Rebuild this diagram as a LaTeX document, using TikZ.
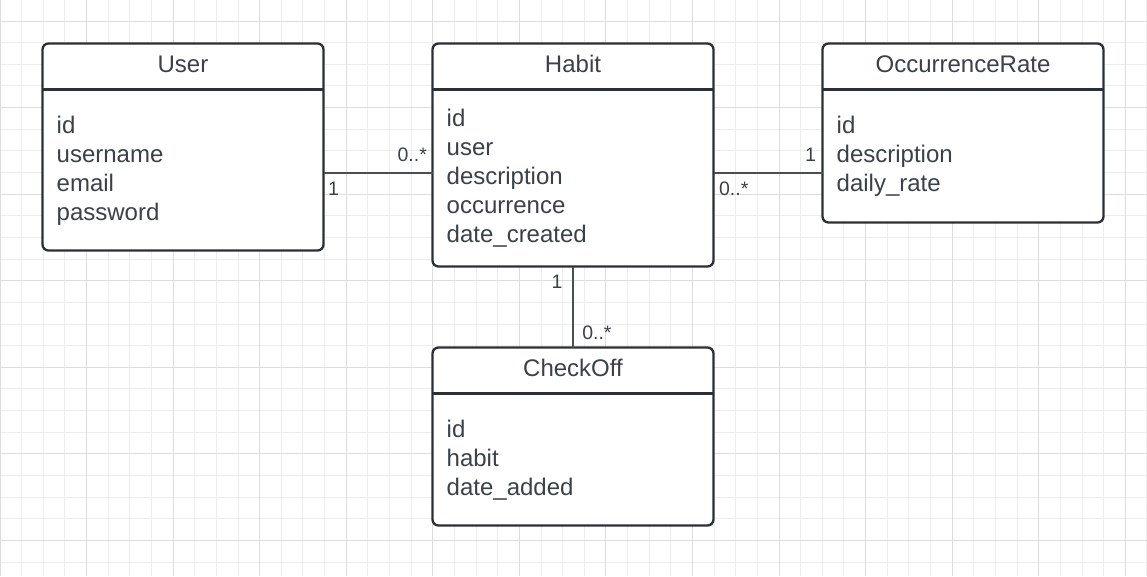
\documentclass[tikz,border=0pt]{standalone}
\usepackage{fontspec}
\setmainfont{Liberation Sans}
\usepackage{tikz}
\usetikzlibrary{positioning}

\definecolor{inkgray}{HTML}{3A414A}
\definecolor{boxline}{HTML}{2B2F36}
\definecolor{gridminor}{HTML}{EDEDED}
\definecolor{gridmajor}{HTML}{DDDDDD}
\definecolor{linkgray}{HTML}{4A4F56}

\tikzset{
  classbox/.style={draw=boxline, line width=2.3pt, fill=white, rounded corners=6pt,
    minimum width=281pt, inner sep=0pt, outer sep=0pt},
  classtitle/.style={text=inkgray, font=\fontsize{24}{29}\selectfont, anchor=base, inner sep=0pt},
  fields/.style={text=inkgray, font=\fontsize{24}{29}\selectfont, align=left,
    anchor=north west, inner sep=0pt},
  sepline/.style={draw=boxline, line width=2.3pt},
  link/.style={draw=linkgray, line width=1.2pt},
  mult/.style={text=inkgray, font=\fontsize{19.5}{21}\selectfont, inner sep=0pt},
}

\begin{document}
\begin{tikzpicture}[x=1pt, y=-1pt]
    \useasboundingbox (0,0) rectangle (1147,576);
    % background grid
    \foreach \k in {0,...,53} \draw[gridminor, line width=1pt] (\k*21.64,0) -- (\k*21.64,576);
    \foreach \k in {0,...,26} \draw[gridminor, line width=1pt] (0,\k*21.64-0.6) -- (1147,\k*21.64-0.6);
    \foreach \k in {0,4,...,52} \draw[gridmajor, line width=1pt] (\k*21.64,0) -- (\k*21.64,576);
    \foreach \k in {1,5,...,25} \draw[gridmajor, line width=1pt] (0,\k*21.64-0.6) -- (1147,\k*21.64-0.6);

    % classes
    \node[classbox, minimum height=207pt] (user) at (183,147) {};
    \node[classbox, minimum height=223pt] (habit) at (573,155) {};
    \node[classbox, minimum height=179pt] (occrate) at (963,133) {};
    \node[classbox, minimum height=178pt] (checkoff) at (573,436.5) {};

    \foreach \c/\t in {user/User, habit/Habit, occrate/OccurrenceRate, checkoff/CheckOff} {
      \draw[sepline] ([yshift=-46pt]\c.north west) -- ([yshift=-46pt]\c.north east);
      \node[classtitle] at ([yshift=-29pt]\c.north) {\t};
    }

    \node[fields] (userf) at ([xshift=14pt, yshift=-72.8pt]user.north west)
      {id\\username\\email\\password};
    \node[fields] (habitf) at ([xshift=14pt, yshift=-65.8pt]habit.north west)
      {id\\user\\description\\occurrence\\date\_created};
    \node[fields] (occratef) at ([xshift=14pt, yshift=-72.8pt]occrate.north west)
      {id\\description\\daily\_rate};
    \node[fields] (checkofff) at ([xshift=14pt, yshift=-72pt]checkoff.north west)
      {id\\habit\\date\_added};

    % associations
    \coordinate (row) at (0,173);
    \draw[link] (user.east |- row) -- (habit.west |- row)
      node[mult, pos=0, anchor=north west, xshift=4pt, yshift=-8.5pt]{1}
      node[mult, pos=1, anchor=base east, xshift=-5pt, yshift=11.3pt]{0..*};
    \draw[link] (habit.east |- row) -- (occrate.west |- row)
      node[mult, pos=0, anchor=north west, xshift=5pt, yshift=-8pt]{0..*}
      node[mult, pos=1, anchor=base east, xshift=-6pt, yshift=11.3pt]{1};
    \draw[link] (habit.south) -- (checkoff.north)
      node[mult, pos=0, anchor=north east, xshift=-10pt, yshift=-8pt]{1}
      node[mult, pos=1, anchor=base west, xshift=8.7pt, yshift=8pt]{0..*};
  \end{tikzpicture}
\end{document}
